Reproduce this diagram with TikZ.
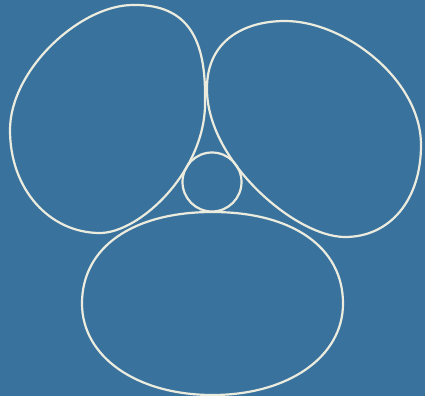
\documentclass[tikz,border=0pt]{standalone}
\usepackage{tikz}
\usepackage{xcolor}
\definecolor{bgblue}{RGB}{58,114,158}
\definecolor{chalk}{RGB}{236,236,222}
\begin{document}
\begin{tikzpicture}[
			x=1pt, y=-1pt,
			outline/.style={draw=chalk, line width=2.2pt, line join=round}
		]
			\fill[bgblue] (0,0) rectangle (425,396);
			\useasboundingbox (0,0) rectangle (425,396);
			% top left lobe
			\draw[outline] (133,5) .. controls (190,4) and (206,42) .. (205,100)
				.. controls (207,170) and (140,233) .. (100,233)
				.. controls (50,233) and (10,190) .. (10,130)
				.. controls (10,70) and (80,5) .. cycle;
			% top right lobe
			\draw[outline] (285,21) .. controls (345,21) and (421,80) .. (421,145)
				.. controls (421,200) and (390,237) .. (345,237)
				.. controls (295,237) and (206,160) .. (207,88)
				.. controls (207,40) and (245,21) .. cycle;
			% bottom lobe
			\draw[outline] (212.5,212) .. controls (292,212) and (343,247) .. (343,303.5)
				.. controls (343,357) and (288,395) .. (212.5,395)
				.. controls (137,395) and (82,357) .. (82,303.5)
				.. controls (82,247) and (133,212) .. cycle;
			% small circle in the middle
			\draw[outline] (212,182) circle[radius=29.5];
		\end{tikzpicture}
\end{document}
